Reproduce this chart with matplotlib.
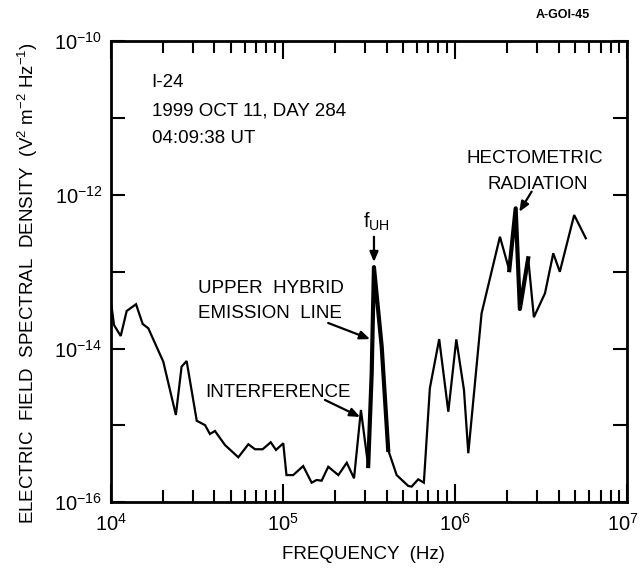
import matplotlib
matplotlib.use('Agg')
import matplotlib.pyplot as plt
from matplotlib.ticker import FixedLocator, FixedFormatter, NullFormatter, LogLocator
from matplotlib.transforms import ScaledTranslation

plt.rcParams['font.family'] = ['Liberation Sans', 'DejaVu Sans']
plt.rcParams['mathtext.default'] = 'regular'

# spectrum (Hz, V^2 m^-2 Hz^-1)
freq = [1.0e4, 1.045e4, 1.143e4, 1.238e4, 1.403e4, 1.534e4, 1.653e4, 2.02e4,
        2.39e4, 2.58e4, 2.76e4, 3.16e4, 3.53e4, 3.77e4, 4.03e4, 4.61e4,
        5.51e4, 6.30e4, 6.89e4, 7.63e4, 8.50e4, 9.12e4, 1.005e5, 1.049e5,
        1.148e5, 1.312e5, 1.469e5, 1.571e5, 1.679e5, 1.835e5, 2.10e5, 2.35e5,
        2.59e5, 2.84e5, 3.13e5, 3.28e5, 3.38e5, 3.75e5, 4.09e5, 4.58e5,
        5.35e5, 5.60e5, 6.11e5, 6.59e5, 7.14e5, 8.09e5, 9.14e5, 1.017e6,
        1.127e6, 1.194e6, 1.426e6, 1.823e6, 2.065e6, 2.25e6, 2.38e6, 2.66e6,
        2.87e6, 3.33e6, 3.72e6, 4.06e6, 4.92e6, 5.75e6]
density = [4.30e-14, 2.03e-14, 1.46e-14, 3.09e-14, 3.78e-14, 2.09e-14, 1.84e-14, 6.76e-15,
           1.37e-15, 5.82e-15, 6.90e-15, 1.15e-15, 1.01e-15, 7.74e-16, 8.47e-16, 5.56e-16,
           3.85e-16, 5.69e-16, 4.90e-16, 4.90e-16, 6.04e-16, 4.80e-16, 5.86e-16, 2.26e-16,
           2.26e-16, 2.96e-16, 1.80e-16, 1.95e-16, 1.91e-16, 2.90e-16, 2.26e-16, 3.27e-16,
           2.05e-16, 1.59e-15, 2.96e-16, 4.78e-15, 1.15e-13, 1.06e-14, 4.80e-16, 2.26e-16,
           1.63e-16, 1.60e-16, 1.99e-16, 1.80e-16, 3.05e-15, 1.33e-14, 1.51e-15, 1.32e-14,
           2.89e-15, 4.35e-16, 2.88e-14, 2.86e-13, 1.05e-13, 6.70e-13, 3.28e-14, 1.50e-13,
           2.56e-14, 5.25e-14, 1.74e-13, 1.00e-13, 5.48e-13, 2.73e-13]

# segments traced heavier in the original (fUH line and hectometric peak)
heavy = [(34, 39), (52, 56)]

x_major = [1e4, 1e5, 1e6, 1e7]
x_labels = ['$10^4$', '$10^5$', '$10^6$', '$10^7$']
y_ticks = [1e-16, 1e-15, 1e-14, 1e-13, 1e-12, 1e-11, 1e-10]
y_labels = ['$10^{-16}$', '', '$10^{-14}$', '', '$10^{-12}$', '', '$10^{-10}$']

fig = plt.figure(figsize=(6.4, 5.68), dpi=100)
ax = fig.add_axes([0.173, 0.1157, 0.807, 0.8116])

ax.plot(freq, density, color='black', lw=1.6, solid_joinstyle='miter')
for a, b in heavy:
    ax.plot(freq[a:b], density[a:b], color='black', lw=3.0)

ax.set_xscale('log')
ax.set_yscale('log')
ax.set_xlim(1e4, 1e7)
ax.set_ylim(1e-16, 1e-10)

ax.xaxis.set_major_locator(FixedLocator(x_major))
ax.xaxis.set_major_formatter(FixedFormatter(x_labels))
ax.xaxis.set_minor_locator(LogLocator(base=10, subs=range(2, 10)))
ax.xaxis.set_minor_formatter(NullFormatter())
ax.yaxis.set_major_locator(FixedLocator(y_ticks))
ax.yaxis.set_major_formatter(FixedFormatter(y_labels))
ax.yaxis.set_minor_locator(FixedLocator([]))

for s in ax.spines.values():
    s.set_linewidth(2.0)
ax.tick_params(axis='both', which='both', direction='in', top=True, right=True,
               width=1.5, labelsize=14.5)
ax.tick_params(axis='x', which='major', length=13, pad=8)
ax.tick_params(axis='x', which='minor', length=8.5)
ax.tick_params(axis='y', which='major', length=10, pad=6)

# last x label sits flush with the right edge of the figure
last = ax.get_xticklabels()[-1]
last.set_horizontalalignment('right')
last.set_transform(last.get_transform() + ScaledTranslation(0.12, 0, fig.dpi_scale_trans))

fs = 13.5
ax.text(0.079, 0.901, 'I-24', transform=ax.transAxes, fontsize=fs)
ax.text(0.079, 0.840, '1999 OCT 11, DAY 284', transform=ax.transAxes, fontsize=fs)
ax.text(0.079, 0.779, '04:09:38 UT', transform=ax.transAxes, fontsize=fs)

ax.text(0.311, 0.454, 'UPPER  HYBRID', transform=ax.transAxes, fontsize=fs, ha='center')
ax.text(0.308, 0.400, 'EMISSION  LINE', transform=ax.transAxes, fontsize=fs, ha='center')
ax.text(0.324, 0.228, 'INTERFERENCE', transform=ax.transAxes, fontsize=fs, ha='center')
ax.text(0.821, 0.736, 'HECTOMETRIC', transform=ax.transAxes, fontsize=fs, ha='center')
ax.text(0.827, 0.680, 'RADIATION', transform=ax.transAxes, fontsize=fs, ha='center')
ax.text(0.5136, 0.595, '$f_{UH}$', transform=ax.transAxes, fontsize=fs + 1, ha='center')

arrow = dict(arrowstyle='-|>,head_length=0.6,head_width=0.25', lw=1.6, color='black',
             shrinkA=0, shrinkB=0)
ax.annotate('', xy=(0.5097, 0.521), xytext=(0.5097, 0.576),
            xycoords='axes fraction', textcoords='axes fraction', arrowprops=arrow)
ax.annotate('', xy=(3.21e5, 1.33e-14), xytext=(0.421, 0.389),
            textcoords='axes fraction', arrowprops=arrow)
ax.annotate('', xy=(2.81e5, 1.29e-15), xytext=(0.4147, 0.222),
            textcoords='axes fraction', arrowprops=arrow)
ax.annotate('', xy=(0.791, 0.630), xytext=(0.815, 0.674),
            xycoords='axes fraction', textcoords='axes fraction', arrowprops=arrow)

ax.set_xlabel('FREQUENCY  (Hz)', fontsize=fs)
ax.xaxis.set_label_coords(0.49, -0.095)
fig.text(0.043, 0.502, 'ELECTRIC  FIELD  SPECTRAL  DENSITY  (V$^2$ m$^{-2}$ Hz$^{-1}$)',
         rotation=90, ha='center', va='center', fontsize=fs)
fig.text(0.922, 0.968, 'A-GOI-45', fontsize=9, ha='right', fontweight='bold')

fig.savefig('out.png', dpi=100)
